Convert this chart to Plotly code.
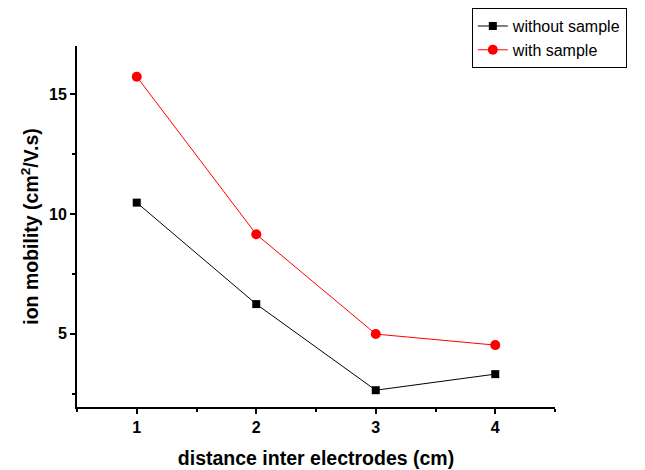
import plotly.graph_objects as go

distance = [1, 2, 3, 4]
without_sample = [10.47, 6.24, 2.65, 3.32]
with_sample = [15.72, 9.15, 4.99, 4.53]

x_ticks = [1, 2, 3, 4]
y_ticks = [5, 10, 15]

fig = go.Figure()
fig.add_trace(go.Scatter(
    x=distance, y=without_sample, name="without sample",
    mode="lines+markers",
    line=dict(color="black", width=1),
    marker=dict(symbol="square", size=8, color="black"),
))
fig.add_trace(go.Scatter(
    x=distance, y=with_sample, name="with sample",
    mode="lines+markers",
    line=dict(color="red", width=1),
    marker=dict(symbol="circle", size=10, color="red"),
))

tickfont = dict(family="Liberation Sans, Arial", size=16, color="black", weight="bold")
titlefont = dict(family="Liberation Sans, Arial", size=19.5, color="black", weight="bold")

fig.update_layout(
    width=645, height=470,
    margin=dict(l=77, r=90, t=46, b=63, autoexpand=False),
    paper_bgcolor="white", plot_bgcolor="white",
    showlegend=True,
    legend=dict(
        x=0.826, y=1.105, xanchor="left", yanchor="top",
        bordercolor="black", borderwidth=1,
        font=dict(family="Liberation Sans, Arial", size=16, color="black"),
        tracegroupgap=0, itemwidth=30,
    ),
    xaxis=dict(
        range=[0.5, 4.5], tickvals=x_ticks, ticktext=[str(v) for v in x_ticks],
        showgrid=False, zeroline=False, showline=True, linecolor="black", linewidth=2,
        ticks="outside", ticklen=5, tickwidth=2, tickcolor="black",
        minor=dict(tickvals=[0.5, 1.5, 2.5, 3.5, 4.5], ticks="outside", ticklen=3, tickwidth=2, tickcolor="black"),
        tickfont=tickfont, automargin=False,
        title=dict(text="distance inter electrodes (cm)", font=titlefont, standoff=16),
    ),
    yaxis=dict(
        range=[1.95, 17], tickvals=y_ticks, ticktext=[str(v) for v in y_ticks],
        showgrid=False, zeroline=False, showline=True, linecolor="black", linewidth=2,
        ticks="outside", ticklen=5, tickwidth=2, tickcolor="black",
        minor=dict(tickvals=[2.5, 7.5, 12.5], ticks="outside", ticklen=3, tickwidth=2, tickcolor="black"),
        tickfont=tickfont, automargin=False,
        title=dict(text="ion mobility (cm<sup>2</sup>/V.s)", font=titlefont, standoff=5),
    ),
)

fig.write_html("out.html")
